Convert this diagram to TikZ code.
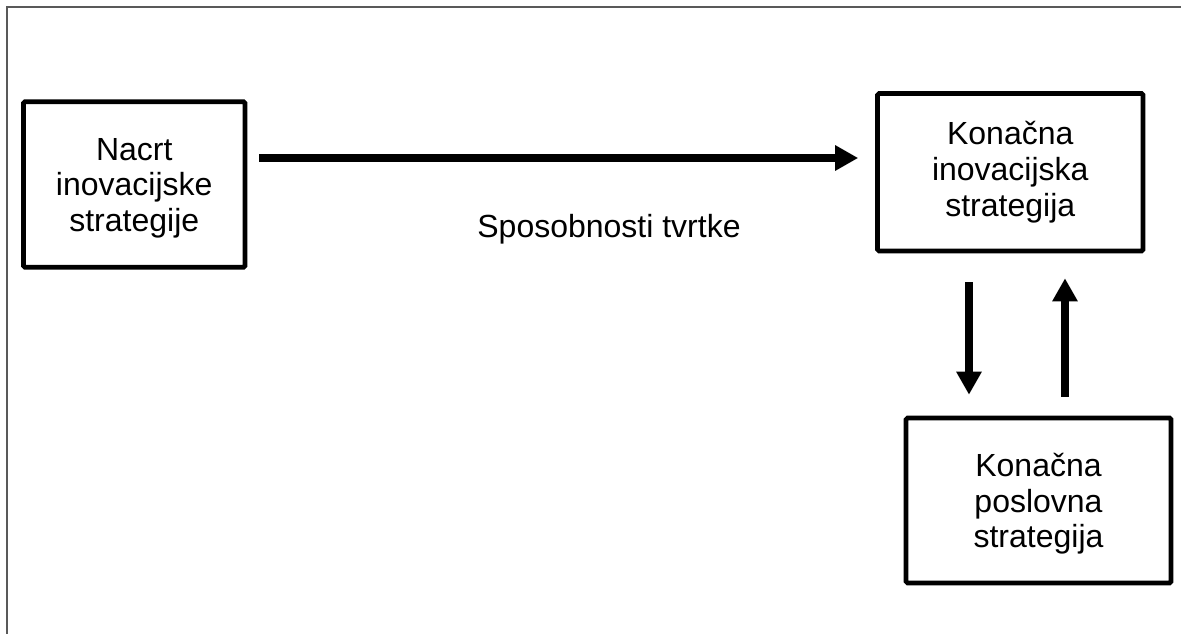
\documentclass[tikz,border=0pt]{standalone}
\usepackage{fontspec}
\setmainfont{Liberation Sans}
\usetikzlibrary{arrows.meta}
\definecolor{framegray}{HTML}{595959}
\newcommand{\toppad}[1]{\rule{0pt}{#1}}
\tikzset{
  box/.style={draw=black, line width=4.6pt, rounded corners=1.5pt, align=center,
    inner sep=0pt, font=\fontsize{32}{35.6}\selectfont},
  arr/.style={line width=8pt, -{Triangle[length=23pt,width=24pt]}},
  lbl/.style={font=\fontsize{32}{35.6}\selectfont, inner sep=0pt}
}
\begin{document}
\begin{tikzpicture}[x=1pt,y=-1pt]
\useasboundingbox (0,0) rectangle (1181,634);
\draw[framegray, line width=1.7pt] (7,634) -- (7,7) -- (1181,7);
\node[box, minimum width=221.5pt, minimum height=165.5pt] (n1) at (134.25,184.5) {\toppad{29pt}Nacrt\\inovacijske\\strategije};
\node[box, minimum width=265.5pt, minimum height=157.5pt] (n2) at (1010.25,172.25) {Konačna\\inovacijska\\strategija};
\node[box, minimum width=265pt, minimum height=165pt] (n3) at (1038.5,500.5) {\toppad{30pt}Konačna\\poslovna\\strategija};
\coordinate (hy) at (0,158);
\coordinate (dx) at (969,0);
\coordinate (ux) at (1065,0);
\draw[arr] ([xshift=12pt]n1.east |- hy) -- ([xshift=-17pt]n2.west |- hy);
\draw[arr] (dx |- n2.south) ++(0,29) -- ([yshift=21pt]dx |- n3.north);
\draw[arr] ([yshift=19pt]ux |- n3.north) -- ([yshift=-25pt]ux |- n2.south);
\node[lbl, anchor=base] (l1) at (609,237) {Sposobnosti tvrtke};
\end{tikzpicture}
\end{document}
